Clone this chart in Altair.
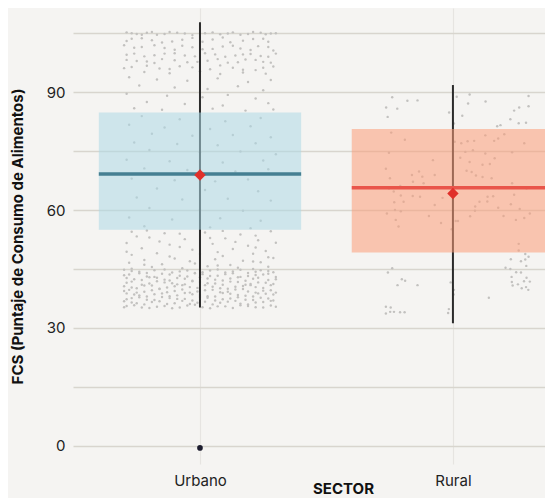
import json
import altair as alt
import pandas as pd

# ---------------- data ----------------
categories = ["Urbano", "Rural"]
q1 = [55.0, 49.2]
q3 = [84.8, 80.6]
medians = [69.2, 65.7]
means = [68.9, 64.2]
whisker_lo = [35.2, 31.2]
whisker_hi = [107.8, 91.8]
outlier_sector = ["Urbano"]
outlier_fcs = [-0.5]

urban_pts = [
    (105.2,-0.29),(104.8,-0.25),(105.1,-0.21),(104.6,-0.17),(105.3,-0.12),(104.9,-0.06),(105.0,0.02),(104.7,0.08),(105.2,0.13),(104.8,0.19),(105.1,0.24),(104.9,0.28),
    (105.0,-0.27),(104.6,-0.23),(105.3,-0.19),(104.8,-0.14),(105.1,-0.09),(104.5,-0.03),(105.2,0.05),(104.9,0.11),(104.6,0.16),(105.3,0.21),(104.7,0.26),(105.0,0.30),
    (103.6,-0.27),(103.2,-0.19),(102.9,-0.11),(103.8,-0.03),(103.4,0.05),(102.7,0.12),(103.5,0.21),(102.8,0.27),
    (103.0,-0.29),(103.7,-0.23),(102.6,-0.15),(103.3,-0.07),(102.8,0.01),(103.9,0.09),(103.1,0.17),(103.6,0.25),
    (101.9,-0.30),(101.5,-0.23),(101.2,-0.14),(101.8,-0.07),(100.9,0.01),(101.6,0.09),(101.1,0.16),(101.7,0.23),(100.6,0.29),
    (101.3,-0.26),(101.9,-0.18),(100.8,-0.10),(101.4,-0.03),(101.0,0.05),(101.8,0.13),(100.7,0.20),(101.5,0.27),
    (99.8,-0.26),(99.4,-0.18),(99.9,-0.10),(99.1,-0.02),(99.6,0.06),(99.3,0.14),(99.7,0.20),(99.0,0.27),
    (99.5,-0.29),(99.1,-0.22),(99.8,-0.14),(99.3,-0.06),(99.9,0.02),(99.0,0.10),(99.6,0.17),(99.2,0.24),(99.8,0.30),
    (98.2,-0.29),(97.8,-0.21),(98.4,-0.15),(97.6,-0.05),(98.0,0.03),(97.5,0.11),(98.3,0.18),(97.7,0.25),
    (97.9,-0.25),(97.4,-0.18),(98.1,-0.10),(97.7,-0.01),(98.4,0.07),(97.6,0.15),(98.2,0.22),(97.5,0.28),
    (96.4,-0.27),(96.0,-0.16),(96.6,-0.08),(95.8,0.04),(96.2,0.13),(95.6,0.22),(96.5,0.29),
    (96.1,-0.30),(96.7,-0.21),(95.9,-0.12),(96.3,-0.03),(96.8,0.08),(95.7,0.17),(96.2,0.25),
    (95.1,-0.22),(94.8,-0.12),(95.3,0.00),(94.6,0.08),(95.0,0.17),(94.7,0.26),
    (93.8,-0.28),(93.2,-0.17),(92.9,-0.05),(93.5,0.07),(92.6,0.19),(93.1,0.28),
    (91.7,-0.24),(91.2,-0.10),(90.8,0.03),(91.5,0.15),(90.5,0.25),
    (89.6,-0.29),(89.1,-0.13),(88.7,0.01),(89.3,0.11),(88.4,0.22),
    (87.5,-0.21),(87.0,-0.06),(86.6,0.09),(87.2,0.27),
    (85.9,-0.26),(85.5,-0.15),(85.8,0.05),(85.3,0.18),(85.6,0.29),
    (83.9,-0.23),(83.1,-0.08),(82.6,0.10),(83.4,0.24),
    (81.7,-0.28),(81.0,-0.14),(80.6,0.04),(81.3,0.20),
    (79.4,-0.19),(78.9,-0.03),(79.1,0.13),(78.5,0.28),
    (77.2,-0.26),(76.8,-0.09),(76.5,0.07),(77.0,0.22),
    (75.3,-0.20),(74.7,0.00),(74.9,0.16),(74.2,0.30),
    (72.8,-0.29),(72.4,-0.12),(72.1,0.09),(72.6,0.25),
    (70.6,-0.22),(70.2,-0.05),(69.8,0.14),(70.4,0.27),
    (68.0,-0.27),(67.6,-0.10),(67.3,0.06),(67.8,0.19),
    (65.5,-0.17),(65.1,0.02),(64.8,0.23),
    (63.2,-0.25),(62.7,-0.07),(62.9,0.11),(62.4,0.28),
    (60.5,-0.20),(60.1,0.00),(59.8,0.17),
    (58.1,-0.28),(57.6,-0.11),(57.9,0.08),(57.3,0.24),
    (55.9,-0.22),(55.6,0.04),(55.4,0.20),
    (54.5,-0.27),(54.1,-0.14),(54.3,0.02),(53.8,0.16),(54.6,0.28),
    (54.8,-0.21),(54.0,-0.08),(54.7,0.09),(53.5,0.22),(53.3,-0.25),(52.9,0.04),
    (53.0,-0.20),(52.6,-0.06),(52.8,0.10),(52.3,0.23),(52.0,-0.16),(51.9,0.14),
    (51.6,-0.29),(51.2,-0.12),(51.4,0.05),(50.9,0.19),(51.7,0.30),(50.6,-0.08),(50.5,0.22),
    (50.3,-0.23),(49.9,-0.03),(50.1,0.13),(49.6,0.26),(49.4,-0.29),(49.3,0.07),
    (49.0,-0.17),(48.6,-0.27),(48.8,0.00),(48.3,0.09),(48.9,0.21),(48.2,-0.12),(48.0,0.27),
    (47.7,-0.10),(47.3,-0.22),(47.5,0.06),(47.1,0.17),(47.8,0.29),(47.0,-0.04),(46.9,0.21),
    (46.6,-0.28),(46.2,-0.15),(46.4,-0.02),(46.0,0.12),(46.7,0.24),(46.1,-0.22),(45.9,0.07),
    (45.5,-0.19),(45.2,-0.07),(45.7,0.03),(45.3,0.15),(45.6,0.27),(45.1,-0.27),(45.0,0.21),
    (44.8,-0.30),(44.3,-0.24),(44.7,-0.18),(44.1,-0.11),(44.6,-0.05),(44.2,0.01),(44.9,0.07),(44.4,0.13),(44.0,0.19),(44.7,0.24),(44.2,0.29),
    (44.5,-0.27),(44.0,-0.21),(44.9,-0.14),(44.4,-0.08),(44.0,-0.02),(44.6,0.04),(44.1,0.10),(44.8,0.16),(44.3,0.22),(44.5,0.27),
    (43.6,-0.28),(43.1,-0.21),(43.8,-0.15),(43.3,-0.08),(43.9,-0.02),(43.2,0.04),(43.7,0.10),(43.0,0.16),(43.5,0.22),(43.8,0.27),
    (43.4,-0.30),(43.9,-0.24),(43.0,-0.18),(43.6,-0.12),(43.1,-0.05),(43.7,0.01),(43.3,0.07),(43.9,0.13),(43.2,0.19),(43.6,0.25),(43.0,0.30),
    (42.7,-0.29),(42.2,-0.23),(42.8,-0.17),(42.1,-0.12),(42.5,-0.06),(42.9,0.00),(42.3,0.06),(42.6,0.12),(42.0,0.18),(42.8,0.23),(42.4,0.30),
    (42.4,-0.26),(42.9,-0.20),(42.3,-0.14),(42.7,-0.09),(42.0,-0.03),(42.6,0.03),(42.1,0.09),(42.9,0.15),(42.5,0.21),(42.2,0.27),
    (41.8,-0.27),(41.3,-0.20),(41.6,-0.14),(41.1,-0.09),(41.9,-0.03),(41.4,0.03),(41.0,0.09),(41.7,0.15),(41.2,0.20),(41.5,0.26),
    (41.5,-0.29),(41.0,-0.23),(41.9,-0.17),(41.4,-0.11),(41.1,-0.06),(41.7,0.00),(41.3,0.06),(41.8,0.12),(41.0,0.18),(41.6,0.23),(41.2,0.29),
    (40.6,-0.30),(40.1,-0.25),(40.8,-0.19),(40.3,-0.13),(40.9,-0.07),(40.2,-0.01),(40.5,0.05),(40.0,0.11),(40.7,0.17),(40.4,0.22),(40.9,0.28),
    (40.3,-0.27),(40.8,-0.22),(40.0,-0.16),(40.6,-0.10),(40.4,-0.04),(40.9,0.02),(40.1,0.08),(40.5,0.14),(40.9,0.20),(40.2,0.25),
    (39.7,-0.28),(39.2,-0.22),(39.9,-0.16),(39.4,-0.10),(39.0,-0.04),(39.6,0.02),(39.1,0.08),(39.8,0.14),(39.3,0.19),(39.5,0.25),(39.0,0.30),
    (39.4,-0.30),(39.0,-0.25),(39.6,-0.19),(39.1,-0.13),(39.8,-0.07),(39.3,-0.01),(39.7,0.05),(39.2,0.11),(39.9,0.17),(39.0,0.22),(39.6,0.28),
    (38.8,-0.29),(38.3,-0.24),(38.6,-0.18),(38.1,-0.12),(38.9,-0.06),(38.4,0.00),(38.0,0.06),(38.7,0.12),(38.2,0.18),(38.8,0.23),(38.5,0.29),
    (38.5,-0.26),(38.0,-0.21),(38.8,-0.15),(38.3,-0.09),(38.6,-0.03),(38.1,0.03),(38.9,0.09),(38.4,0.15),(38.0,0.21),(38.7,0.26),
    (37.6,-0.27),(37.2,-0.21),(37.9,-0.15),(37.4,-0.09),(37.0,-0.03),(37.7,0.03),(37.3,0.09),(37.8,0.15),(37.1,0.21),(37.5,0.27),
    (37.3,-0.29),(37.8,-0.24),(37.1,-0.18),(37.6,-0.12),(37.4,-0.06),(37.9,0.00),(37.0,0.06),(37.5,0.12),(37.2,0.18),(37.7,0.24),(37.0,0.29),
    (36.8,-0.30),(36.3,-0.25),(36.6,-0.19),(36.1,-0.13),(36.9,-0.07),(36.4,-0.01),(36.0,0.05),(36.7,0.11),(36.2,0.16),(36.5,0.22),(36.9,0.28),
    (36.5,-0.27),(36.0,-0.22),(36.8,-0.16),(36.3,-0.10),(36.1,-0.04),(36.7,0.02),(36.4,0.08),(36.9,0.14),(36.0,0.19),(36.6,0.25),
    (35.6,-0.29),(35.2,-0.23),(35.4,-0.17),(35.0,-0.11),(35.7,-0.05),(35.3,0.01),(35.5,0.07),(35.1,0.13),(35.6,0.19),(35.2,0.25),(35.4,0.30),
    (35.3,-0.30),(35.8,-0.26),(35.1,-0.20),(35.6,-0.14),(35.2,-0.08),(35.9,-0.02),(35.0,0.04),(35.5,0.10),(35.8,0.16),(35.3,0.22),(35.7,0.28),
]

rural_pts = [
    (88.7,-0.240),(86.1,-0.264),(85.8,-0.220),(83.7,-0.258),(87.8,-0.180),(87.9,-0.140),(84.8,-0.015),(88.8,0.015),
    (89.4,0.066),(87.1,0.060),(84.0,0.037),(82.0,0.004),(87.6,0.129),(89.0,0.299),(86.4,0.299),(86.1,0.262),
    (85.3,0.242),(83.1,0.227),(82.1,0.260),(82.2,0.289),(81.3,0.175),(81.6,0.188),
    (79.7,-0.244),(77.9,-0.190),(74.6,-0.253),(72.7,-0.079),(70.5,-0.265),(68.9,-0.162),(69.8,-0.134),(68.5,-0.121),
    (68.9,-0.072),(68.1,-0.249),(67.2,-0.158),(66.8,-0.116),(66.1,-0.208),(65.5,-0.253),(64.7,-0.234),(63.7,-0.206),
    (63.6,-0.159),(63.4,-0.130),(63.1,-0.041),(62.0,-0.232),(62.1,-0.195),(61.3,-0.072),(60.0,-0.229),(59.7,-0.206),
    (59.1,-0.261),(58.5,-0.095),(57.5,-0.226),(55.8,-0.215),(56.7,-0.047),(57.2,0.011),(57.2,0.020),(55.1,-0.005),
    (77.4,0.007),(77.0,0.033),(77.5,0.058),(77.6,0.084),(79.0,0.128),(77.6,0.163),(78.2,0.179),(79.3,0.203),
    (77.0,0.282),(75.2,0.079),(74.8,0.049),(74.4,0.128),(74.7,0.234),(73.3,0.029),(73.2,0.165),(72.2,0.066),
    (71.5,0.117),(71.7,0.146),(70.0,0.054),(69.7,0.074),(68.8,0.091),(68.4,0.117),(68.1,0.153),(66.8,0.234),
    (65.7,0.111),(65.6,0.181),(65.5,0.291),(63.9,0.242),(63.4,0.137),(63.5,0.159),(62.1,0.105),(62.2,0.136),
    (61.5,0.229),(60.9,0.088),(60.6,0.179),(59.8,0.087),(60.3,0.264),(59.1,0.304),(58.0,0.282),(58.4,0.068),
    (58.5,0.200),(57.5,0.249),(51.4,0.260),(49.7,0.260),
    (47.5,0.229),(47.0,0.269),(47.4,0.286),(48.8,0.286),(48.1,0.299),(45.3,0.208),(45.0,0.227),(45.8,0.290),
    (44.2,0.250),(44.1,0.269),(43.0,0.232),(42.8,0.291),(41.7,0.233),(41.1,0.257),(41.9,0.281),(41.8,0.304),
    (40.8,0.236),(40.1,0.272),(40.4,0.289),(39.7,0.298),(37.7,0.142),
    (45.2,-0.240),(44.1,-0.257),(42.4,-0.202),(42.0,-0.189),(40.9,-0.219),(40.9,-0.140),(41.6,-0.009),(39.7,0.004),
    (38.5,0.003),(35.4,-0.265),(35.2,-0.246),(33.7,-0.265),(34.1,-0.248),(34.1,-0.233),(34.0,-0.209),(34.0,-0.191),
    (34.8,-0.016),(33.8,-0.019),
]

box_fill = ["#add8e6", "#fb9c78"]
median_color = ["#457f92", "#e9554a"]

# ---------------- tables ----------------
idx = {c: i for i, c in enumerate(categories)}
pts = pd.DataFrame(
    [{"SECTOR": "Urbano", "FCS": y, "jit": j} for y, j in urban_pts]
    + [{"SECTOR": "Rural", "FCS": y, "jit": j} for y, j in rural_pts]
)
pts["pos"] = pts["SECTOR"].map(idx) + pts["jit"]

summ = pd.DataFrame({
    "SECTOR": categories, "q1": q1, "q3": q3, "median": medians, "mean": means,
    "lo": whisker_lo, "hi": whisker_hi,
})
summ["pos"] = summ["SECTOR"].map(idx)
outl = pd.DataFrame({"SECTOR": outlier_sector, "FCS": outlier_fcs})
outl["pos"] = outl["SECTOR"].map(idx)

HALF = 0.40
xscale = alt.Scale(domain=[-0.502, 1.364], nice=False, zero=False)
yscale = alt.Scale(domain=[-4.6, 111.4], nice=False, zero=False)
fill_scale = alt.Scale(domain=categories, range=box_fill)
med_scale = alt.Scale(domain=categories, range=median_color)

label_expr = json.dumps(categories).replace('"', "'") + "[round(datum.value)]"
xaxis = alt.Axis(values=[0, 1], labelExpr=label_expr, grid=True, gridColor="#e6e4e1",
                 gridWidth=1.2, domain=False, ticks=False, labelPadding=9,
                 title="SECTOR", titleX=270, titleY=17, titleFontWeight="bold")
yaxis = alt.Axis(values=[0, 15, 30, 45, 60, 75, 90, 105],
                 labelExpr="datum.value % 30 == 0 ? datum.label : ''",
                 grid=True, gridColor="#d8d5ce", gridWidth=1.5, domain=False, ticks=False,
                 labelPadding=8, title="FCS (Puntaje de Consumo de Alimentos)",
                 titleX=-48, titleY=228, titleFontWeight="bold")

dots = alt.Chart(pts).mark_circle(size=6, color="#c2c1bf", opacity=1).encode(
    x=alt.X("pos:Q", scale=xscale, axis=xaxis),
    y=alt.Y("FCS:Q", scale=yscale, axis=yaxis),
)

base = alt.Chart(summ)
whisk = base.mark_rule(color="#2b2b2b", strokeWidth=2).encode(
    x=alt.X("pos:Q", scale=xscale), y=alt.Y("lo:Q", scale=yscale), y2="hi:Q"
)
box = base.transform_calculate(
    left=f"datum.pos - {HALF}", right=f"datum.pos + {HALF}"
).mark_rect(opacity=0.55).encode(
    x=alt.X("left:Q", scale=xscale), x2="right:Q",
    y=alt.Y("q1:Q", scale=yscale), y2="q3:Q",
    color=alt.Color("SECTOR:N", scale=fill_scale, legend=None),
)
med = base.transform_calculate(
    left=f"datum.pos - {HALF}", right=f"datum.pos + {HALF}"
).mark_rule(strokeWidth=3.5).encode(
    x=alt.X("left:Q", scale=xscale), x2="right:Q",
    y=alt.Y("median:Q", scale=yscale),
    color=alt.Color("SECTOR:N", scale=med_scale, legend=None),
)
mean_pt = base.mark_point(shape="diamond", filled=True, size=130, color="#e0302a", opacity=1).encode(
    x=alt.X("pos:Q", scale=xscale), y=alt.Y("mean:Q", scale=yscale)
)
out_pt = alt.Chart(outl).mark_circle(size=32, color="#1c1c2e", opacity=1).encode(
    x=alt.X("pos:Q", scale=xscale), y=alt.Y("FCS:Q", scale=yscale)
)

chart = alt.layer(dots, whisk, box, med, mean_pt, out_pt).resolve_scale(color="independent").properties(
    width=472, height=456,
    autosize=alt.AutoSizeParams(type="none"),
    padding={"left": 65, "top": 0, "right": 0, "bottom": 34},
    background="#f5f4f2",
).configure_view(stroke=None).configure_axis(
    labelFont="Inter", titleFont="Inter", labelFontSize=15, titleFontSize=15,
    labelColor="#222222", titleColor="#111111",
)

chart.save("out.html", embed_options={"renderer": "svg", "actions": False})
